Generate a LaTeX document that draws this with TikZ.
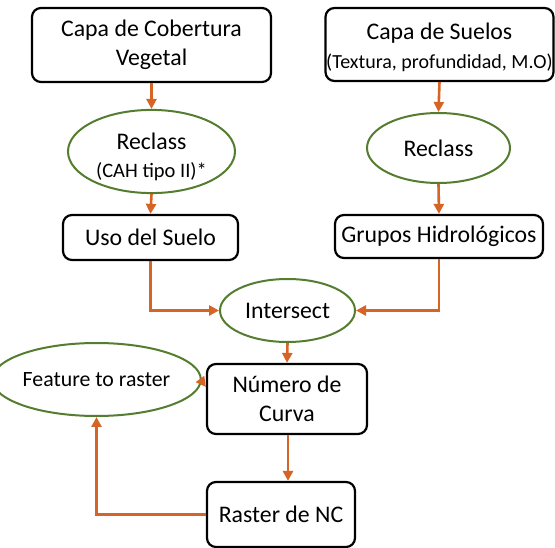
\documentclass[tikz,border=0pt]{standalone}
\usepackage{fontspec}
\setmainfont{Carlito}
\usetikzlibrary{shapes.geometric,arrows.meta,calc}
\definecolor{arrowor}{RGB}{214,100,36}
\definecolor{ellgreen}{RGB}{84,125,48}
\tikzset{
  boxnode/.style={draw=black,line width=2.2pt,rounded corners=9pt,fill=white,inner sep=0pt,align=center,font=\fontsize{23.8}{28.5}\selectfont},
  ellnode/.style={ellipse,draw=ellgreen,line width=2pt,fill=white,inner sep=0pt,align=center,font=\fontsize{23.8}{28.5}\selectfont},
  flow/.style={draw=arrowor,line width=2.6pt,-{Triangle[length=10pt,width=10pt]}}
}
\begin{document}
\begin{tikzpicture}[x=1pt,y=-1pt]
\useasboundingbox[fill=white] (0,0) rectangle (555,548);
\node[boxnode,minimum width=239pt,minimum height=74pt] (b1) at (151.5,45) {Capa de Cobertura\\Vegetal};
\node[ellnode,minimum width=167pt,minimum height=77pt] (e1) at (151.5,151.5) {\rule{0pt}{27pt}Reclass\\{\fontsize{20.5}{26}\selectfont (CAH tipo II)*}};
\node[boxnode,minimum width=228pt,minimum height=73pt] (b2) at (439.5,44.5) {\rule{0pt}{22pt}Capa de Suelos\\{\fontsize{20}{27}\selectfont (Textura, profundidad, M.O)}};
\node[boxnode,minimum width=175pt,minimum height=45pt] (b3) at (150.5,237.5) {Uso del Suelo};
\node[ellnode,minimum width=143pt,minimum height=70pt] (e2) at (438.5,148) {Reclass};
\node[boxnode,minimum width=208pt,minimum height=43pt] (b4) at (439,236.5) {Grupos Hidrológicos};
\node[ellnode,minimum width=135pt,minimum height=63pt] (e3) at (287.5,310.5) {Intersect};
\node[boxnode,minimum width=160pt,minimum height=70pt] (b5) at (287,399) {Número de\\Curva};
\node[ellnode,minimum width=171pt,minimum height=73pt,font=\fontsize{21.8}{26}\selectfont] (e4) at (96.5,379.5) {Feature to raster};
\node[boxnode,minimum width=148pt,minimum height=65pt] (b6) at (281,514.5) {Raster de NC};

\draw[flow] (b1.south) -- (e1.north);
\draw[flow] (e1.south) -- (b3.north);
\draw[flow] (b2.south) -- (e2.north);
\draw[flow] (e2.south) -- (b4.north);
\draw[flow] (b3.south) |- (e3.west);
\draw[flow] (b4.south) |- (e3.east);
\draw[flow] (e3.south) -- (b5.north);
\draw[flow] ($(b5.south)+(1,0)$) -- ($(b5.south |- b6.north)+(1,0)$);
\draw[flow] ([yshift=-2pt]e4.east) -- ([yshift=12pt]b5.west);
\draw[flow] (b6.west) -| (e4.south);
\end{tikzpicture}
\end{document}
